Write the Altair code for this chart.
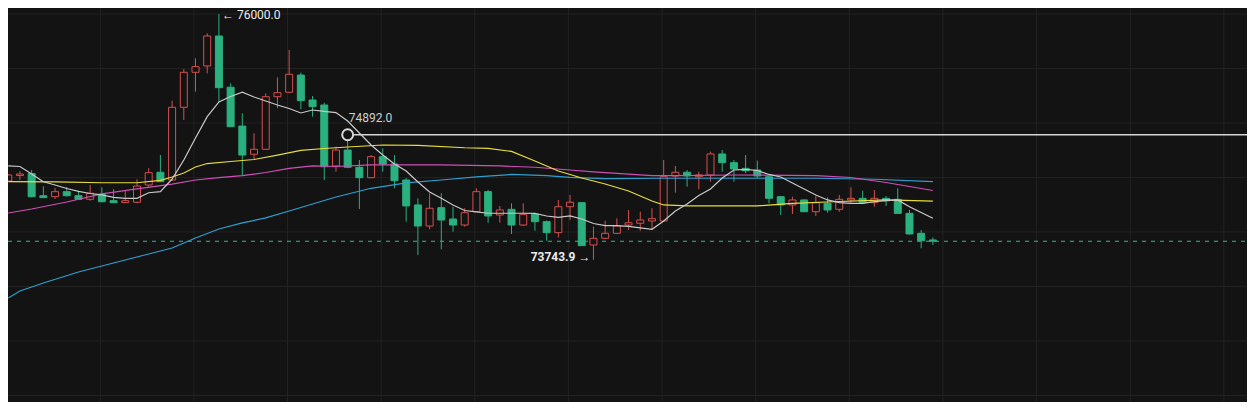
import altair as alt
import pandas as pd

# ---- candle data (price units) ----
opens = [74468, 74518, 74537, 74333, 74324, 74370, 74333, 74300, 74346, 74287,
         74269, 74273, 74431, 74548, 74477, 75144, 75465, 75523, 75798, 75328,
         74972, 74713, 74759, 75241, 75282, 75440, 75211, 75165, 74606, 74752,
         74594, 74498, 74691, 74624, 74477, 74248, 74055, 74223, 74119, 74064,
         74186, 74370, 74156, 74208, 74064, 74162, 74095, 73994, 74232, 74269,
         73881, 73942, 73988, 74064, 74080, 74101, 74101, 74514, 74548, 74507,
         74523, 74716, 74636, 74584, 74569, 74507, 74324, 74248, 74294, 74186,
         74263, 74208, 74294, 74309, 74269, 74309, 74300, 74171, 73988, 73927]
highs = [74532, 74560, 74569, 74420, 74404, 74413, 74379, 74431, 74410, 74392,
         74379, 74484, 74585, 74707, 75205, 75493, 75594, 75823, 76000, 75364,
         75089, 74905, 75272, 75419, 75670, 75462, 75248, 75186, 74783, 74892,
         74661, 74706, 74768, 74706, 74495, 74309, 74355, 74355, 74232, 74218,
         74401, 74385, 74239, 74263, 74263, 74171, 74104, 74294, 74340, 74275,
         74049, 74104, 74126, 74202, 74186, 74218, 74661, 74606, 74569, 74553,
         74737, 74752, 74661, 74706, 74655, 74514, 74330, 74324, 74300, 74330,
         74318, 74340, 74410, 74379, 74385, 74330, 74401, 74202, 74019, 73951]
lows = [74459, 74477, 74317, 74312, 74303, 74326, 74294, 74287, 74271, 74266,
        74266, 74263, 74416, 74459, 74468, 75028, 75287, 75456, 75195, 74963,
        74514, 74667, 74752, 75135, 75275, 75126, 75058, 74477, 74553, 74585,
        74211, 74495, 74553, 74401, 74095, 73789, 74025, 73841, 74003, 74049,
        74183, 74085, 74085, 73982, 74055, 74012, 73920, 73951, 74110, 73872,
        73743.9, 73940, 73982, 74019, 74012, 74019, 74096, 74361, 74416, 74392,
        74462, 74553, 74462, 74539, 74493, 74263, 74156, 74165, 74183, 74147,
        74177, 74186, 74263, 74257, 74232, 74239, 74165, 73977, 73851, 73881]
closes = [74523, 74532, 74324, 74315, 74370, 74333, 74300, 74355, 74278, 74269,
          74287, 74422, 74544, 74462, 75144, 75465, 75517, 75798, 75324, 74966,
          74706, 74759, 75241, 75278, 75447, 75205, 75150, 74599, 74752, 74594,
          74498, 74691, 74624, 74471, 74239, 74055, 74218, 74110, 74064, 74177,
          74370, 74147, 74202, 74064, 74162, 74095, 73994, 74232, 74273, 73875,
          73942, 73988, 74055, 74085, 74110, 74122, 74507, 74548, 74514, 74523,
          74716, 74636, 74578, 74562, 74514, 74309, 74248, 74294, 74186, 74269,
          74202, 74300, 74309, 74269, 74309, 74287, 74171, 73982, 73920, 73915]

# ---- moving averages ----
ma_white = [74607, 74601, 74532, 74461, 74431, 74399, 74372, 74353, 74340, 74317,
            74309, 74309, 74360, 74370, 74486, 74661, 74862, 75058, 75193, 75243,
            75282, 75239, 75202, 75165, 75133, 75092, 75119, 75106, 75096, 75018,
            74908, 74798, 74706, 74624, 74560, 74459, 74367, 74309, 74248, 74197,
            74184, 74172, 74172, 74172, 74172, 74170, 74147, 74135, 74147, 74119,
            74078, 74058, 74058, 74051, 74037, 74025, 74101, 74193, 74257, 74335,
            74395, 74495, 74569, 74575, 74564, 74528, 74505, 74450, 74395, 74340,
            74294, 74269, 74263, 74262, 74278, 74287, 74294, 74232, 74179, 74126]
yellow_idx = [1, 5, 9, 12, 14, 15, 16, 17, 18, 20, 22, 24, 26, 28, 30, 33, 36, 40,
              42, 44, 46, 48, 50, 52, 54, 56, 57, 59, 65, 68, 72, 76, 80]
yellow_val = [74462, 74459, 74452, 74452, 74473, 74505, 74541, 74596, 74628, 74647,
              74665, 74706, 74748, 74766, 74780, 74798, 74794, 74773, 74768, 74739,
              74651, 74560, 74495, 74440, 74376, 74284, 74248, 74239, 74239, 74263,
              74280, 74294, 74284]
magenta_idx = [1, 3, 6, 9, 12, 15, 17, 19, 21, 23, 25, 27, 29, 32, 38, 43, 46, 49,
               51, 53, 56, 58, 63, 70, 73, 76, 80]
magenta_val = [74174, 74211, 74275, 74349, 74395, 74440, 74477, 74498, 74517, 74546,
               74583, 74606, 74601, 74615, 74615, 74606, 74594, 74569, 74551, 74537,
               74518, 74517, 74523, 74518, 74500, 74454, 74381]
blue_idx = [1, 2, 4, 7, 10, 13, 15, 17, 19, 21, 23, 25, 27, 29, 32, 35, 38, 41, 44,
            47, 49, 52, 57, 70, 75, 80]
blue_val = [73395, 73459, 73532, 73633, 73716, 73798, 73853, 73945, 74028, 74083,
            74129, 74193, 74257, 74321, 74401, 74450, 74477, 74505, 74528, 74518,
            74502, 74489, 74493, 74493, 74484, 74462]

# ---- annotations ----
max_label = "\u2190 76000.0"
min_label = "73743.9 \u2192"
mark_label = "74892.0"
mark_price = 74892
mark_index = 30
grid_prices = [76000, 75500, 75000, 74500, 74000, 73500, 73000, 72500]
grid_index = [8.86 + 8 * k for k in range(13)]

BG = "#131313"
GRID = "#222222"
GREEN = "#2bb07f"
RED = "#d5504e"

W, H = 1239, 394
xs = alt.Scale(domain=[1.407, 106.41], nice=False, zero=False)
ys = alt.Scale(domain=[72440.4, 76055.0], nice=False, zero=False)

n = len(opens)
df = pd.DataFrame({"i": list(range(1, n + 1)), "o": opens, "h": highs,
                   "l": lows, "c": closes})
df["dir"] = ["up" if c >= o else "down" for o, c in zip(opens, closes)]
color = alt.Color("dir:N", scale=alt.Scale(domain=["up", "down"], range=[RED, GREEN]),
                  legend=None)

hgrid = alt.Chart(pd.DataFrame({"p": grid_prices})).mark_rule(
    color=GRID, strokeWidth=1).encode(
    y=alt.Y("p:Q", scale=ys, axis=None), x=alt.value(0), x2=alt.value(W))
vgrid = alt.Chart(pd.DataFrame({"i": grid_index})).mark_rule(
    color=GRID, strokeWidth=1).encode(
    x=alt.X("i:Q", scale=xs, axis=None), y=alt.value(0), y2=alt.value(H))

wicks = alt.Chart(df).mark_rule(strokeWidth=1, clip=True).encode(
    x=alt.X("i:Q", scale=xs, axis=None),
    y=alt.Y("l:Q", scale=ys, axis=None), y2="h:Q", color=color)
up_body = alt.Chart(df).transform_filter("datum.dir == 'up'").mark_bar(
    fill=BG, stroke=RED, strokeWidth=1, size=7, clip=True).encode(
    x=alt.X("i:Q", scale=xs, axis=None),
    y=alt.Y("o:Q", scale=ys, axis=None), y2="c:Q")
dn_body = alt.Chart(df).transform_filter("datum.dir == 'down'").mark_bar(
    fill=GREEN, stroke=GREEN, strokeWidth=1, size=7, clip=True).encode(
    x=alt.X("i:Q", scale=xs, axis=None),
    y=alt.Y("o:Q", scale=ys, axis=None), y2="c:Q")

def ma_line(idx, vals, col):
    d = pd.DataFrame({"i": idx, "v": vals})
    return alt.Chart(d).mark_line(color=col, strokeWidth=1.2, clip=True).encode(
        x=alt.X("i:Q", scale=xs, axis=None), y=alt.Y("v:Q", scale=ys, axis=None))

blue = ma_line(blue_idx, blue_val, "#2f9fcf")
magenta = ma_line(magenta_idx, magenta_val, "#cf4fb6")
yellow = ma_line(yellow_idx, yellow_val, "#e6dd3c")
white = ma_line(list(range(1, n + 1)), ma_white, "#c9c9c9")

last = alt.Chart(pd.DataFrame({"p": [closes[-1]]})).mark_rule(
    color="#2fbf8c", strokeWidth=1, strokeDash=[4, 5]).encode(
    y=alt.Y("p:Q", scale=ys, axis=None), x=alt.value(0), x2=alt.value(W))

mark_df = pd.DataFrame({"i": [mark_index], "p": [mark_price], "t": [mark_label]})
hline = alt.Chart(mark_df).mark_rule(color="#d6d6d6", strokeWidth=1.3).encode(
    x=alt.X("i:Q", scale=xs, axis=None), x2=alt.value(W),
    y=alt.Y("p:Q", scale=ys, axis=None))
circ = alt.Chart(mark_df).mark_point(shape="circle", size=120, filled=False,
                                     fill=BG, fillOpacity=1, stroke="#d8d8d8",
                                     strokeWidth=2, opacity=1).encode(
    x=alt.X("i:Q", scale=xs, axis=None), y=alt.Y("p:Q", scale=ys, axis=None))
mark_txt = alt.Chart(mark_df).mark_text(align="left", baseline="middle", dx=1, dy=-17,
                                        font="Roboto", fontSize=12,
                                        color="#cfcfcf").encode(
    x=alt.X("i:Q", scale=xs, axis=None), y=alt.Y("p:Q", scale=ys, axis=None), text="t:N")

imax = highs.index(max(highs)) + 1
imin = lows.index(min(lows)) + 1
hi_txt = alt.Chart(pd.DataFrame({"i": [imax], "p": [max(highs)], "t": [max_label]})).mark_text(
    align="left", baseline="middle", dx=3, dy=1, font="Roboto", fontSize=12,
    color="#ececec").encode(
    x=alt.X("i:Q", scale=xs, axis=None), y=alt.Y("p:Q", scale=ys, axis=None), text="t:N")
lo_txt = alt.Chart(pd.DataFrame({"i": [imin], "p": [min(lows)], "t": [min_label]})).mark_text(
    align="right", baseline="middle", dx=-3, dy=-3, font="Roboto", fontSize=12,
    fontWeight="bold", color="#ececec").encode(
    x=alt.X("i:Q", scale=xs, axis=None), y=alt.Y("p:Q", scale=ys, axis=None), text="t:N")

chart = alt.layer(hgrid, vgrid, last, wicks, up_body, dn_body,
                  blue, magenta, yellow, white, hline, circ, mark_txt, hi_txt, lo_txt
                  ).properties(width=W, height=H, padding=0, background=BG,
                               autosize=alt.AutoSizeParams(type="none")
                  ).configure_view(strokeWidth=0)

chart.save("out.html", embed_options={"renderer": "svg", "actions": False})
